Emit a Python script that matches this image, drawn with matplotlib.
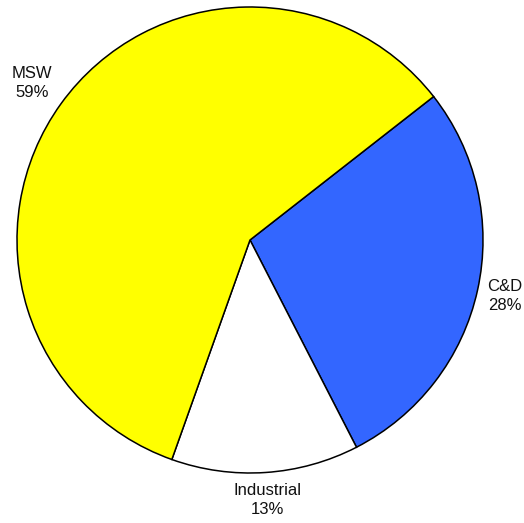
import numpy as np
import matplotlib.pyplot as plt

# waste stream shares, drawn clockwise starting from C&D
labels = ['C&D', 'Industrial', 'MSW']
shares = [28, 13, 59]
colors = ['#3366ff', '#ffffff', '#ffff00']

plt.rcParams['font.family'] = ['Liberation Sans', 'DejaVu Sans']

fig = plt.figure(figsize=(5.24, 5.23), dpi=100)
ax = fig.add_axes([0, 0, 1, 1])

wedges, texts = ax.pie(shares, colors=colors, startangle=38, counterclock=False,
                       labels=[f'{l}\n{s}%' for l, s in zip(labels, shares)],
                       labeldistance=1.12, center=(0, 0), radius=1.0,
                       wedgeprops=dict(edgecolor='black', linewidth=1.1),
                       textprops=dict(fontsize=12, color='#111111', linespacing=1.35))
for t in texts:
    t.set_ha('center')
    t.set_va('center')
# MSW label sits a little further out
x, y = texts[2].get_position()
texts[2].set_position((x * 1.03, y * 1.03))

# place the pie: centre at (250, 240) px, radius 233 px
r = 233.0
cx, cy = 250.0, 523 - 240.0
ax.set_aspect('auto')
ax.set_xlim(-cx / r, (524 - cx) / r)
ax.set_ylim(-cy / r, (523 - cy) / r)
ax.axis('off')

fig.savefig('out.png', dpi=100)
